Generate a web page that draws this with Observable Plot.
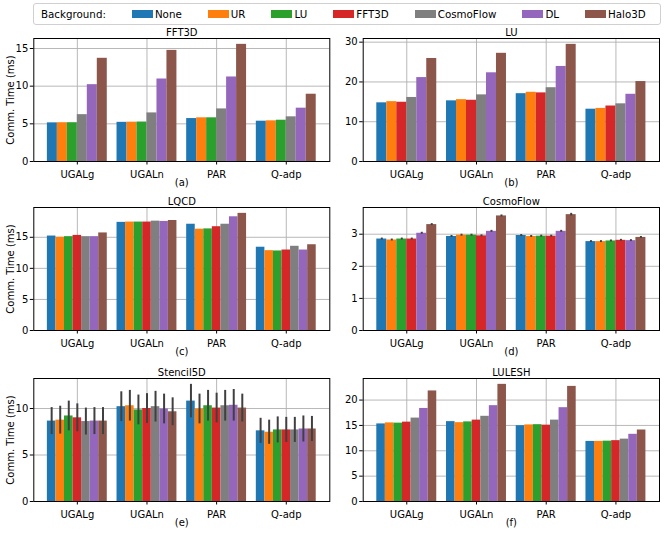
<!DOCTYPE html>
<html><head><meta charset="utf-8">
<script src="https://cdn.jsdelivr.net/npm/d3@7"></script>
<script src="https://cdn.jsdelivr.net/npm/@observablehq/plot@0.6"></script>
<style>
body{margin:0;background:#fff;font-family:"DejaVu Sans",sans-serif;}
#root{position:relative;width:666px;height:533px;overflow:hidden;background:#fff;}
.panel{position:absolute;}
#legend{position:absolute;left:33px;top:3px;width:628px;height:22px;border:1px solid #d0d0d0;border-radius:3px;display:flex;align-items:center;box-sizing:border-box;padding-left:7px;font-size:10.3px;gap:26px;color:#000;}
.item{display:flex;align-items:center;}
.sw{width:21px;height:8px;margin-right:2px;}
</style></head><body><div id="root"><div id="legend"></div></div>
<script>
const groups = ["UGALg", "UGALn", "PAR", "Q-adp"];
const backgrounds = ["None", "UR", "LU", "FFT3D", "CosmoFlow", "DL", "Halo3D"];
const colors = ["#1f77b4", "#ff7f0e", "#2ca02c", "#d62728", "#7f7f7f", "#9467bd", "#8c564b"];

// (a) FFT3D
const fft3dSeries = ["None", "UR", "LU", "CosmoFlow", "DL", "Halo3D"];
const fft3dValues = [
  [5.13, 5.15, 5.15, 6.22, 10.2, 13.7],
  [5.2, 5.22, 5.24, 6.45, 10.95, 14.75],
  [5.7, 5.8, 5.8, 6.98, 11.22, 15.55],
  [5.35, 5.4, 5.48, 5.93, 7.08, 8.93]
];
const fft3dTicks = [0, 5, 10, 15];

// (b) LU
const luSeries = ["None", "UR", "FFT3D", "CosmoFlow", "DL", "Halo3D"];
const luValues = [
  [14.75, 15.05, 14.9, 16.1, 21.1, 25.9],
  [15.25, 15.55, 15.4, 16.75, 22.3, 27.2],
  [17.05, 17.4, 17.25, 18.55, 23.9, 29.45],
  [13.15, 13.35, 13.95, 14.5, 16.9, 20.1]
];
const luTicks = [0, 10, 20, 30];

// (c) LQCD
const lqcdSeries = ["None", "UR", "LU", "FFT3D", "CosmoFlow", "DL", "Halo3D"];
const lqcdValues = [
  [15.2, 15.0, 15.1, 15.3, 15.1, 15.1, 15.7],
  [17.4, 17.45, 17.45, 17.45, 17.6, 17.55, 17.7],
  [17.1, 16.3, 16.35, 16.7, 17.1, 18.3, 18.85],
  [13.4, 12.85, 12.8, 12.95, 13.55, 12.95, 13.8]
];
const lqcdTicks = [0, 5, 10, 15];

// (d) CosmoFlow
const cosmoSeries = ["None", "UR", "LU", "FFT3D", "DL", "Halo3D"];
const cosmoValues = [
  [2.85, 2.82, 2.85, 2.85, 3.03, 3.30],
  [2.93, 2.97, 2.97, 2.95, 3.09, 3.57],
  [2.96, 2.93, 2.94, 2.94, 3.09, 3.61],
  [2.77, 2.77, 2.79, 2.81, 2.80, 2.90]
];
const cosmoErrors = [
  [0.03, 0.03, 0.03, 0.03, 0.03, 0.03],
  [0.03, 0.03, 0.03, 0.03, 0.03, 0.03],
  [0.03, 0.03, 0.03, 0.03, 0.03, 0.04],
  [0.03, 0.03, 0.03, 0.03, 0.03, 0.03]
];
const cosmoTicks = [0, 1, 2, 3];

// (e) Stencil5D
const stencilSeries = ["None", "UR", "LU", "FFT3D", "CosmoFlow", "DL", "Halo3D"];
const stencilValues = [
  [8.65, 8.75, 9.2, 9.0, 8.6, 8.65, 8.65],
  [10.2, 10.3, 9.85, 10.0, 10.2, 9.95, 9.65],
  [10.8, 9.95, 10.3, 10.05, 10.3, 10.35, 10.05],
  [7.6, 7.45, 7.7, 7.7, 7.7, 7.8, 7.8]
];
const stencilErrors = [
  [1.45, 1.5, 1.6, 1.5, 1.45, 1.45, 1.45],
  [1.6, 1.65, 1.6, 1.6, 1.65, 1.6, 1.5],
  [1.8, 1.6, 1.65, 1.6, 1.65, 1.7, 1.5],
  [1.35, 1.3, 1.4, 1.35, 1.35, 1.4, 1.35]
];
const stencilTicks = [0, 5, 10];

// (f) LULESH
const luleshSeries = ["None", "UR", "LU", "FFT3D", "CosmoFlow", "DL", "Halo3D"];
const luleshValues = [
  [15.3, 15.5, 15.45, 15.65, 16.45, 18.35, 21.8],
  [15.75, 15.55, 15.7, 16.05, 16.8, 18.9, 23.1],
  [14.95, 15.1, 15.15, 15.05, 16.05, 18.5, 22.7],
  [11.85, 11.85, 11.9, 12.0, 12.3, 13.25, 14.1]
];
const luleshTicks = [0, 5, 10, 15, 20];

const root = document.getElementById("root");
const legend = document.getElementById("legend");
{
  const lab = document.createElement("span");
  lab.textContent = "Background:";
  legend.appendChild(lab);
  backgrounds.forEach((b, i) => {
    const it = document.createElement("span");
    it.className = "item";
    const sw = document.createElement("span");
    sw.className = "sw";
    sw.style.background = colors[i];
    const t = document.createElement("span");
    t.textContent = b;
    it.appendChild(sw); it.appendChild(t);
    legend.appendChild(it);
  });
}

const groupWidth = 0.86;

function panel({title, tag, series, values, errors, ticks, left, top, isLeft}) {
  const n = series.length, bw = groupWidth / n;
  const rows = [];
  groups.forEach((g, gi) => series.forEach((s, si) => {
    const c = gi + (si - (n - 1) / 2) * bw;
    const v = values[gi][si];
    const e = errors ? errors[gi][si] : 0;
    rows.push({group: g, series: s, x1: c - bw / 2, x2: c + bw / 2, xc: c, v, lo: v - e, hi: v + e});
  }));
  const ymax = d3.max(rows, d => d.hi) * 1.05;
  const idx = d3.range(groups.length);
  const txt = {fontSize: 10, fill: "#000", textAnchor: "middle", lineAnchor: "middle"};
  const marks = [
    Plot.gridX(idx, {stroke: "#b0b0b0", strokeOpacity: 1, strokeWidth: 0.9}),
    Plot.gridY(ticks, {stroke: "#b0b0b0", strokeOpacity: 1, strokeWidth: 0.9}),
    Plot.rectY(rows, {x1: "x1", x2: "x2", y: "v", fill: "series"})
  ];
  if (errors) marks.push(Plot.ruleX(rows, {x: "xc", y1: "lo", y2: "hi", stroke: "#404040", strokeWidth: 2}));
  marks.push(Plot.frame({stroke: "#000", strokeWidth: 1}));
  marks.push(Plot.axisX(idx, {tickFormat: i => groups[i], tickSize: 3.5, fontSize: 10, label: null, stroke: "#000"}));
  marks.push(Plot.axisY(ticks, {tickSize: 3.5, tickPadding: 2, fontSize: 10, label: null, stroke: "#000"}));
  marks.push(Plot.text([title], {...txt, frameAnchor: "top", dy: -6}));
  marks.push(Plot.text([tag], {...txt, frameAnchor: "bottom", dy: 21.5}));
  if (isLeft) marks.push(Plot.text(["Comm. Time (ms)"], {...txt, frameAnchor: "left", rotate: -90, dx: -23}));
  const svg = Plot.plot({
    width: 333, height: 169,
    marginLeft: isLeft ? 33.3 : 29.7, marginRight: isLeft ? 3.7 : 7,
    marginTop: 14, marginBottom: 32,
    x: {type: "linear", domain: [-0.625, 3.625]},
    y: {domain: [0, ymax]},
    color: {domain: backgrounds, range: colors},
    style: {fontFamily: "DejaVu Sans", fontSize: "10px", overflow: "visible", background: "transparent", color: "#000"},
    marks
  });
  svg.classList.add("panel");
  svg.style.left = left + "px";
  svg.style.top = top + "px";
  svg.style.position = "absolute";
  root.appendChild(svg);
}

const rowTops = [23.6, 193.3, 363.7];
panel({title: "FFT3D", tag: "(a)", series: fft3dSeries, values: fft3dValues, ticks: fft3dTicks, left: 0, top: rowTops[0], isLeft: true});
panel({title: "LU", tag: "(b)", series: luSeries, values: luValues, ticks: luTicks, left: 333, top: rowTops[0], isLeft: false});
panel({title: "LQCD", tag: "(c)", series: lqcdSeries, values: lqcdValues, ticks: lqcdTicks, left: 0, top: rowTops[1], isLeft: true});
panel({title: "CosmoFlow", tag: "(d)", series: cosmoSeries, values: cosmoValues, errors: cosmoErrors, ticks: cosmoTicks, left: 333, top: rowTops[1], isLeft: false});
panel({title: "Stencil5D", tag: "(e)", series: stencilSeries, values: stencilValues, errors: stencilErrors, ticks: stencilTicks, left: 0, top: rowTops[2], isLeft: true});
panel({title: "LULESH", tag: "(f)", series: luleshSeries, values: luleshValues, ticks: luleshTicks, left: 333, top: rowTops[2], isLeft: false});
</script></body></html>
